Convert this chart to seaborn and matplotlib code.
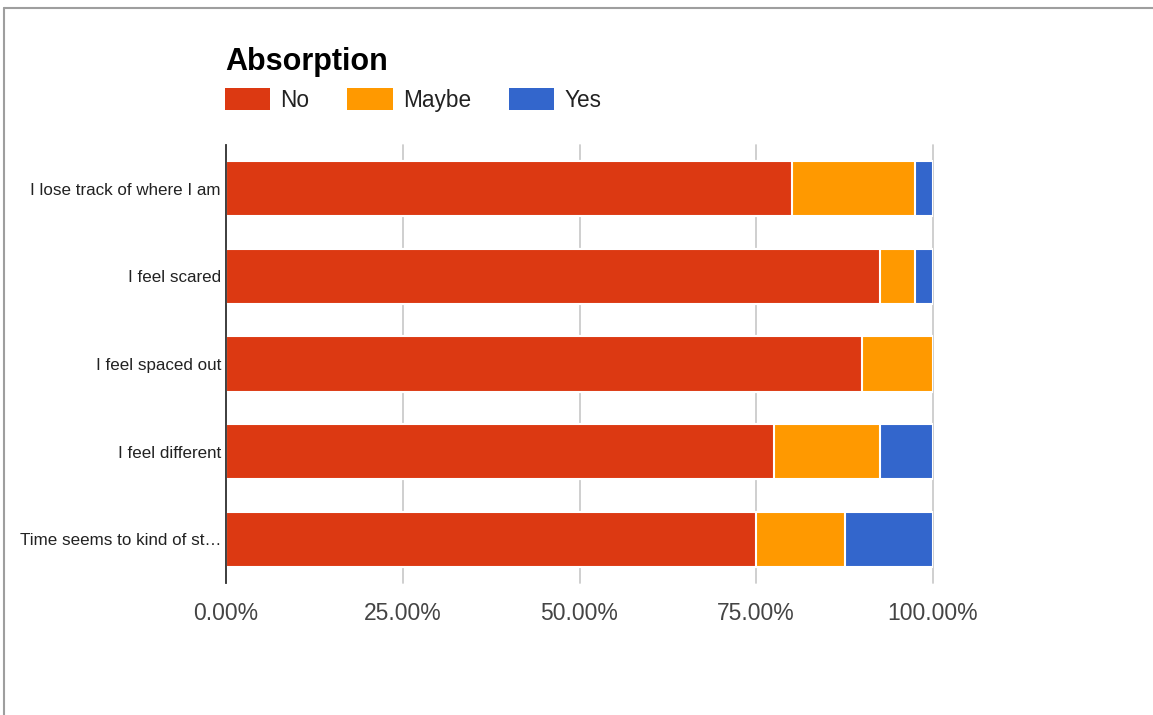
import matplotlib
matplotlib.use("Agg")
import matplotlib.pyplot as plt
import seaborn as sns
import pandas as pd
import numpy as np
from matplotlib.lines import Line2D
from matplotlib.patches import Patch

categories = ["I lose track of where I am", "I feel scared", "I feel spaced out",
              "I feel different", "Time seems to kind of st\u2026"]
no_vals = [80.0, 92.5, 90.0, 77.5, 75.0]
maybe_vals = [17.5, 5.0, 10.0, 15.0, 12.5]
yes_vals = [2.5, 2.5, 0.0, 7.5, 12.5]
series_names = ["No", "Maybe", "Yes"]
series_colors = ["#DC3912", "#FF9900", "#3366CC"]
x_ticks = [0, 25, 50, 75, 100]
title = "Absorption"

sns.set_theme(style="white")
plt.rcParams["font.family"] = ["Liberation Sans", "DejaVu Sans"]

W, H = 1153, 715
fig = plt.figure(figsize=(W / 100, H / 100), dpi=100)
ax = fig.add_axes([226 / W, 1 - 583 / H, (933 - 226) / W, (583 - 145) / H])

cum_no = np.array(no_vals)
cum_maybe = cum_no + np.array(maybe_vals)
cum_yes = cum_maybe + np.array(yes_vals)
df = pd.DataFrame({"cat": categories, "No": cum_no, "Maybe": cum_maybe, "Yes": cum_yes})

for name, color in reversed(list(zip(series_names, series_colors))):
    sns.barplot(data=df, x=name, y="cat", orient="h", color=color, width=0.63,
                saturation=1, edgecolor="white", linewidth=1.5, ax=ax)

ax.set_xlim(0, 100)
ax.set_ylim(4.5, -0.5)
ax.set_xlabel("")
ax.set_ylabel("")
ax.set_xticks(x_ticks)
ax.set_xticklabels([f"{v:.2f}%" for v in x_ticks])
ax.tick_params(axis="x", length=0, pad=14, labelsize=16.5, labelcolor="#444444")
ax.tick_params(axis="y", length=0, pad=3.6, labelsize=12.25, labelcolor="#222222")
ax.set_axisbelow(True)
ax.grid(axis="x", color="#cccccc", linewidth=1.3)
ax.grid(axis="y", visible=False)
for gl in ax.get_xgridlines():
    gl.set_clip_on(False)
for s in ["top", "right", "bottom"]:
    ax.spines[s].set_visible(False)
ax.spines["left"].set_color("#333333")
ax.spines["left"].set_linewidth(1.3)

handles = [Patch(facecolor=c, edgecolor="none", label=n) for n, c in zip(series_names, series_colors)]
ax.legend(handles=handles, loc="upper left", bbox_to_anchor=(225 / W, 1 - 88 / H),
          bbox_transform=fig.transFigure, ncol=3, frameon=False, fontsize=16.3,
          handlelength=2.0, handleheight=1.1, handletextpad=0.45, columnspacing=1.68,
          borderpad=0, borderaxespad=0, labelcolor="#222222")

fig.text(225 / W, 1 - 70 / H, title, fontsize=22, fontweight="bold",
         va="baseline", ha="left", color="black")

fig.add_artist(Line2D([4 / W, 4 / W], [0, 1 - 8 / H], transform=fig.transFigure,
                      color="#9e9e9e", lw=1.5))
fig.add_artist(Line2D([4 / W, 1], [1 - 8 / H, 1 - 8 / H], transform=fig.transFigure,
                      color="#9e9e9e", lw=1.5))

fig.savefig("out.png", dpi=100)
